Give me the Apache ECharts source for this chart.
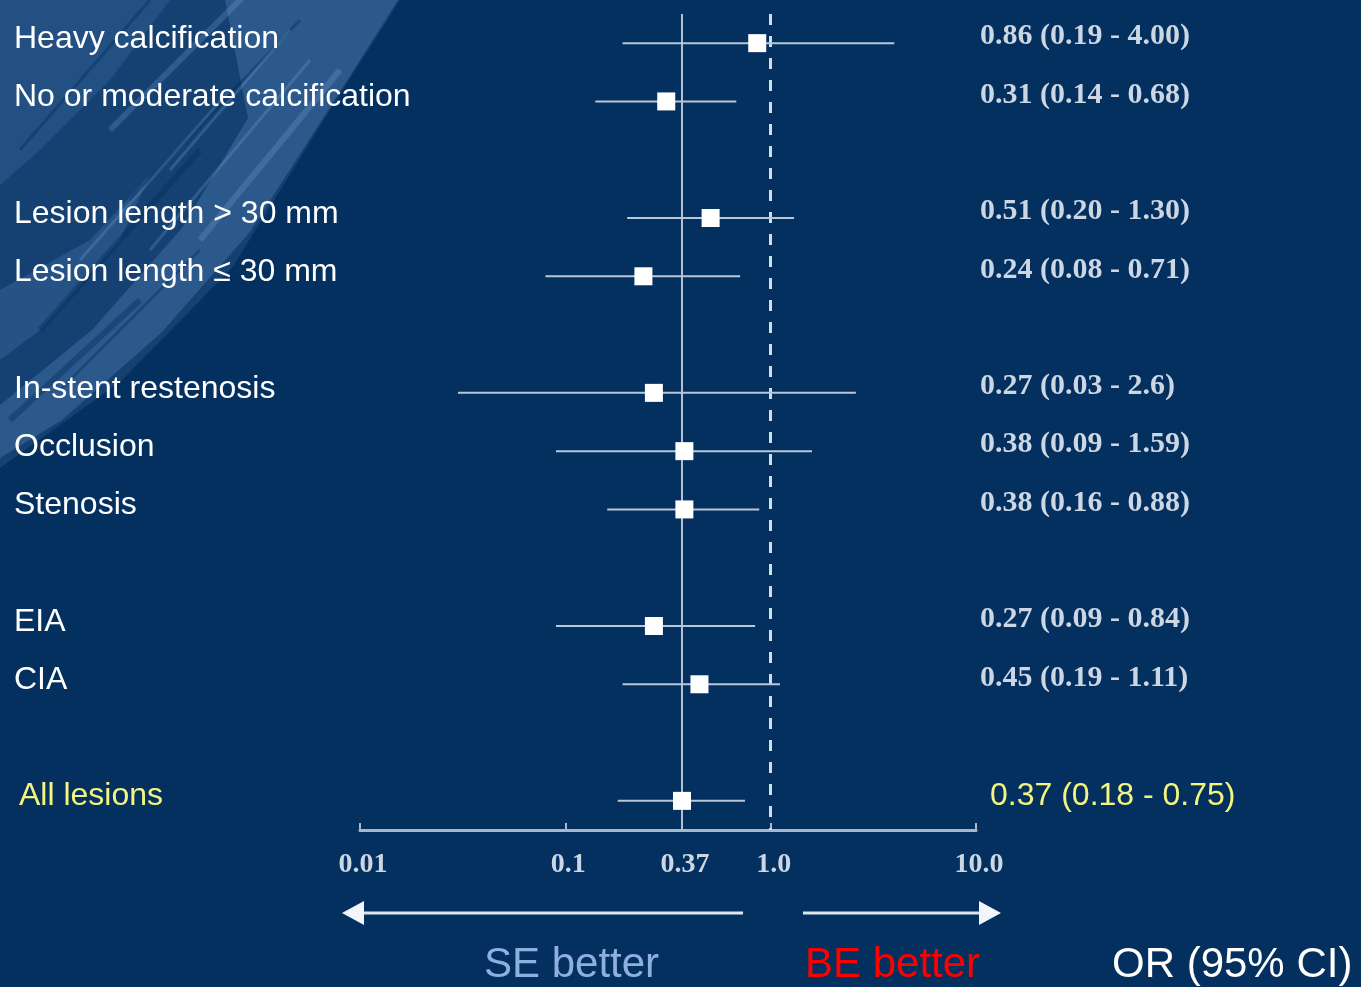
<!DOCTYPE html>
<html>
<head>
<meta charset="utf-8">
<script src="https://cdn.jsdelivr.net/npm/echarts@6/dist/echarts.min.js"></script>
<style>
  html, body { margin: 0; padding: 0; background: #04305f; }
  #chart { width: 1361px; height: 987px; }
</style>
</head>
<body>
<div id="chart"></div>
<script>
// Subgroup rows, top to bottom (blank entries are spacer rows)
const categories = [
  'Heavy calcification', 'No or moderate calcification', '',
  'Lesion length > 30 mm', 'Lesion length \u2264 30 mm', '',
  'In-stent restenosis', 'Occlusion', 'Stenosis', '',
  'EIA', 'CIA', '',
  'All lesions'
];
// Odds ratios with 95% confidence limits
const oddsRatio = [0.86, 0.31, null, 0.51, 0.24, null, 0.27, 0.38, 0.38, null, 0.27, 0.45, null, 0.37];
const ciLower   = [0.19, 0.14, null, 0.20, 0.08, null, 0.03, 0.09, 0.16, null, 0.09, 0.19, null, 0.18];
const ciUpper   = [4.00, 0.68, null, 1.30, 0.71, null, 2.6,  1.59, 0.88, null, 0.84, 1.11, null, 0.75];
const orLabels = [
  '0.86 (0.19 - 4.00)', '0.31 (0.14 - 0.68)', '',
  '0.51 (0.20 - 1.30)', '0.24 (0.08 - 0.71)', '',
  '0.27 (0.03 - 2.6)', '0.38 (0.09 - 1.59)', '0.38 (0.16 - 0.88)', '',
  '0.27 (0.09 - 0.84)', '0.45 (0.19 - 1.11)', '',
  '0.37 (0.18 - 0.75)'
];
// Bottom axis ticks
const tickValues = [0.01, 0.1, 0.37, 1, 10];
const tickLabels = ['0.01', '0.1', '0.37', '1.0', '10.0'];
const pooledOR = 0.37;
const nullOR = 1;

const totalRow = categories.length - 1;
const rows = [];
oddsRatio.forEach((v, i) => {
  if (v != null) rows.push([i, v, ciLower[i], ciUpper[i]]);
});

const lineColor = '#b9c6d8';
const serifText = '#cdd6e3';
const yellow = '#f4f57e';

const chart = echarts.init(document.getElementById('chart'));

// Brush-stroke texture in the upper-left corner
const brush = [
  { points: [[0,0],[400,0],[330,110],[232,268],[120,382],[0,468]], fill: 'rgba(58,104,158,0.30)' },
  { points: [[225,0],[398,0],[332,104],[250,232],[162,332],[62,420],[0,458],[0,405],[92,330],[182,228],[248,118]], fill: 'rgba(78,128,178,0.40)' },
  { points: [[0,0],[170,0],[110,80],[40,150],[0,185]], fill: 'rgba(70,118,168,0.30)' },
  { points: [[0,290],[90,240],[150,175],[120,240],[40,330],[0,360]], fill: 'rgba(80,130,180,0.30)' }
];
const streaks = [
  [[110,130],[250,-10]], [[130,200],[300,20]], [[80,260],[230,90]], [[40,330],[200,150]],
  [[150,250],[310,60]], [[20,150],[150,0]], [[200,240],[340,70]], [[60,390],[200,250]],
  [[170,170],[290,30]], [[10,420],[140,300]]
];
const brushGraphics = brush.map(b => ({
  type: 'polygon', silent: true, z: -10,
  shape: { points: b.points },
  style: { fill: b.fill }
})).concat(streaks.map((s, k) => ({
  type: 'line', silent: true, z: -9,
  shape: { x1: s[0][0], y1: s[0][1], x2: s[1][0], y2: s[1][1] },
  style: { stroke: k % 2 ? 'rgba(4,48,95,0.45)' : 'rgba(110,155,200,0.30)', lineWidth: k % 3 ? 3 : 6 }
})));

const option = {
  backgroundColor: '#04305f',
  animation: false,
  grid: { left: 360, right: 385, top: 14, bottom: 157 },
  xAxis: {
    type: 'log',
    logBase: 10,
    min: 0.01,
    max: 10,
    axisLine: { show: true, lineStyle: { color: '#a9b7cb', width: 3 } },
    axisTick: { show: true, inside: true, length: 7, customValues: tickValues,
      lineStyle: { color: '#a9b7cb', width: 2 } },
    minorTick: { show: false },
    splitLine: { show: false },
    axisLabel: {
      customValues: tickValues,
      margin: 21,
      color: serifText,
      fontFamily: 'Liberation Serif',
      fontWeight: 'bold',
      fontSize: 28,
      padding: [0, 0, 0, 6],
      formatter: v => {
        const k = tickValues.findIndex(t => Math.abs(t - v) < 1e-6);
        return k >= 0 ? tickLabels[k] : '';
      }
    }
  },
  yAxis: [
    {
      type: 'category',
      data: categories,
      inverse: true,
      position: 'left',
      axisLine: { show: false },
      axisTick: { show: false },
      splitLine: { show: false },
      axisLabel: {
        align: 'left',
        margin: 346,
        interval: 0,
        formatter: (v, i) => i === totalRow ? '{t|' + v + '}' : '{n|' + v + '}',
        rich: {
          n: { color: '#ffffff', fontFamily: 'Liberation Sans', fontSize: 32, padding: [0, 0, 8, 0] },
          t: { color: yellow, fontFamily: 'Liberation Sans', fontSize: 32, padding: [0, 0, 10, 5] }
        }
      }
    },
    {
      type: 'category',
      data: orLabels,
      inverse: true,
      position: 'right',
      axisLine: { show: false },
      axisTick: { show: false },
      splitLine: { show: false },
      axisLabel: {
        align: 'left',
        margin: 2,
        interval: 0,
        formatter: (v, i) => i === totalRow ? '{t|' + v + '}' : '{s|' + v + '}',
        rich: {
          s: { color: serifText, fontFamily: 'Liberation Serif', fontWeight: 'bold', fontSize: 30, padding: [0, 0, 13, 2] },
          t: { color: yellow, fontFamily: 'Liberation Sans', fontSize: 32, padding: [0, 0, 10, 12] }
        }
      }
    }
  ],
  series: [{
    type: 'custom',
    yAxisIndex: 0,
    data: rows,
    encode: { x: [1, 2, 3], y: 0 },
    renderItem: (params, api) => {
      const idx = api.value(0);
      const c = api.coord([api.value(1), idx]);
      const lo = api.coord([api.value(2), idx]);
      const hi = api.coord([api.value(3), idx]);
      const s = 18;
      return {
        type: 'group',
        children: [
          { type: 'line', shape: { x1: lo[0], y1: lo[1], x2: hi[0], y2: hi[1] },
            style: { stroke: lineColor, lineWidth: 2 } },
          { type: 'rect', shape: { x: c[0] - s / 2, y: c[1] - s / 2, width: s, height: s },
            style: { fill: '#ffffff' }, z2: 10 }
        ]
      };
    },
    markLine: {
      silent: true,
      symbol: ['none', 'none'],
      label: { show: false },
      z: 1,
      data: [
        { xAxis: pooledOR, lineStyle: { color: '#b3c0d3', width: 2, type: 'solid' } },
        { xAxis: nullOR, lineStyle: { color: '#d4dce8', width: 3, type: [11, 11] } }
      ]
    }
  }],
  graphic: brushGraphics.concat([
    // direction arrows under the axis
    { type: 'line', silent: true, shape: { x1: 358, y1: 913, x2: 743, y2: 913 },
      style: { stroke: '#dfe5ee', lineWidth: 3 } },
    { type: 'polygon', silent: true, shape: { points: [[342,913],[364,901],[364,925]] },
      style: { fill: '#f2f5f9' } },
    { type: 'line', silent: true, shape: { x1: 803, y1: 913, x2: 984, y2: 913 },
      style: { stroke: '#dfe5ee', lineWidth: 3 } },
    { type: 'polygon', silent: true, shape: { points: [[1001,913],[979,901],[979,925]] },
      style: { fill: '#f2f5f9' } },
    { type: 'text', silent: true, left: 484, top: 944,
      style: { text: 'SE better', fill: '#8eb0df', font: '42px "Liberation Sans"' } },
    { type: 'text', silent: true, left: 805, top: 944,
      style: { text: 'BE better', fill: '#ff0000', font: '42px "Liberation Sans"' } },
    { type: 'text', silent: true, left: 1112, top: 944,
      style: { text: 'OR (95% CI)', fill: '#ffffff', font: '42px "Liberation Sans"' } }
  ])
};

chart.setOption(option);
</script>
</body>
</html>
